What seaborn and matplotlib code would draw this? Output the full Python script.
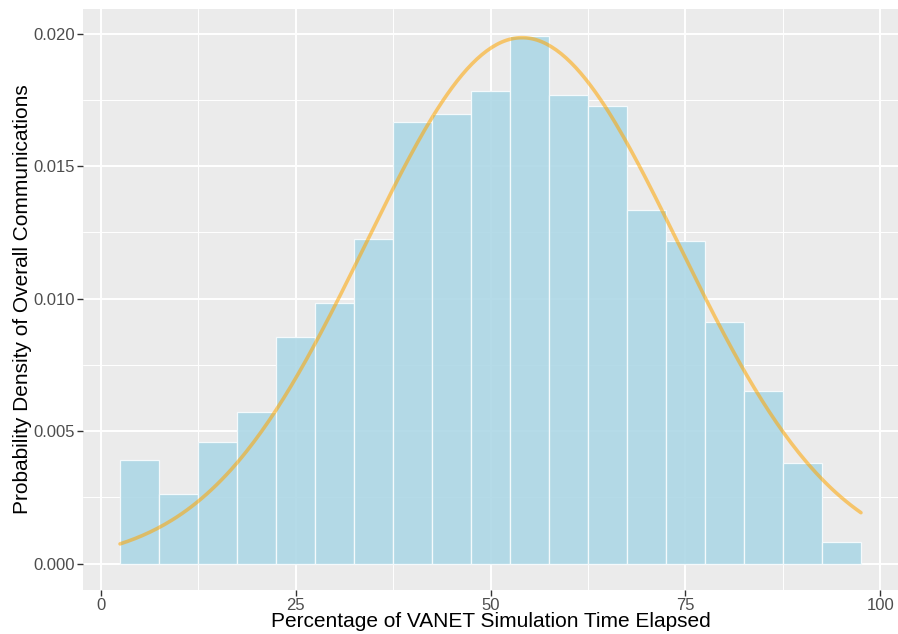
import numpy as np
import pandas as pd
import matplotlib
matplotlib.use("Agg")
import matplotlib.pyplot as plt
import seaborn as sns

# ---- data ----
bin_edges = [2.5, 7.5, 12.5, 17.5, 22.5, 27.5, 32.5, 37.5, 42.5, 47.5, 52.5,
             57.5, 62.5, 67.5, 72.5, 77.5, 82.5, 87.5, 92.5, 97.5]
bin_centers = [5, 10, 15, 20, 25, 30, 35, 40, 45, 50, 55, 60, 65, 70, 75, 80, 85, 90, 95]
densities = [0.00390, 0.00262, 0.00457, 0.00570, 0.00855, 0.00984, 0.01226,
             0.01667, 0.01698, 0.01784, 0.01991, 0.01767, 0.01727, 0.01334,
             0.01217, 0.00911, 0.00653, 0.00379, 0.00083]
# fitted normal curve parameters
fit_mean = 54.05
fit_sd = 20.1
x_ticks = [0, 25, 50, 75, 100]
x_tick_labels = ["0", "25", "50", "75", "100"]
y_ticks = [0.000, 0.005, 0.010, 0.015, 0.020]
y_tick_labels = ["0.000", "0.005", "0.010", "0.015", "0.020"]

df = pd.DataFrame({"x": bin_centers, "density": densities})
curve_x = np.linspace(bin_edges[0], bin_edges[-1], 300)
curve_y = np.exp(-0.5 * ((curve_x - fit_mean) / fit_sd) ** 2) / (fit_sd * np.sqrt(2 * np.pi))
curve_df = pd.DataFrame({"x": curve_x, "y": curve_y})

sns.set_theme(style="darkgrid")
plt.rcParams["font.family"] = ["Liberation Sans", "DejaVu Sans"]

fig = plt.figure(figsize=(8.98, 6.34), dpi=100)
ax = fig.add_axes([83 / 898, 1 - 590 / 634, (898 - 83) / 898, (590 - 9) / 634])
ax.set_facecolor("#EBEBEB")

sns.histplot(data=df, x="x", weights="density", bins=bin_edges, stat="count",
             color="#ADD8E6", alpha=0.9, edgecolor="#F4FAFC", linewidth=0.9, ax=ax,
             zorder=2)
sns.lineplot(data=curve_df, x="x", y="y", color="orange", alpha=0.55,
             linewidth=2.6, ax=ax, zorder=3)

ax.set_xlim(-2.25, 102.25)
ax.set_ylim(-0.001, 0.02093)
ax.set_xticks(x_ticks)
ax.set_xticklabels(x_tick_labels)
ax.set_yticks(y_ticks)
ax.set_yticklabels(y_tick_labels)
ax.set_xticks([12.5, 37.5, 62.5, 87.5], minor=True)
ax.set_yticks([0.0025, 0.0075, 0.0125, 0.0175], minor=True)

ax.grid(which="major", color="white", linewidth=1.4)
ax.grid(which="minor", color="white", linewidth=0.7)
ax.set_axisbelow(True)
for s in ax.spines.values():
    s.set_visible(False)

ax.tick_params(axis="both", which="major", length=4, width=1.0, color="#333333",
               labelsize=12, labelcolor="#4D4D4D", pad=2, bottom=True, left=True)
ax.tick_params(axis="both", which="minor", length=0)

ax.set_xlabel("Percentage of VANET Simulation Time Elapsed", fontsize=15,
              color="black", labelpad=-1)
ax.set_ylabel("Probability Density of Overall Communications", fontsize=15,
              color="black", labelpad=1)

fig.savefig("out.png", dpi=100)
